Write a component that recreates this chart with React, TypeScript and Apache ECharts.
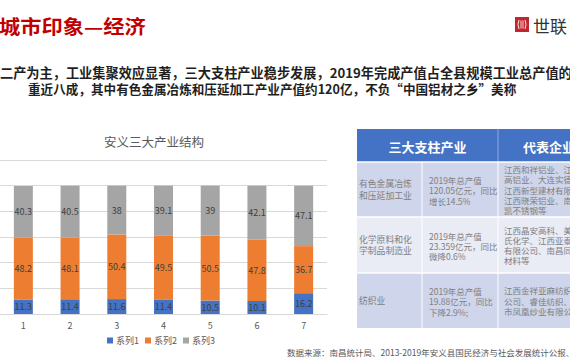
import React, { useEffect, useRef } from "react";
import * as echarts from "echarts";

const categories = ["1", "2", "3", "4", "5", "6", "7"];
const seriesNames = ["系列1", "系列2", "系列3"];
const series1 = [11.3, 11.4, 11.6, 11.4, 10.5, 10.1, 16.2];
const series2 = [48.2, 48.1, 50.4, 49.5, 50.5, 47.8, 36.7];
const series3 = [40.3, 40.5, 38, 39.1, 39, 42.1, 47.1];
const seriesColors = ["#4472C4", "#ED7D31", "#A5A5A5"];

const pageTitle = "城市印象—经济";
const subtitleLine1 = "二产为主，工业集聚效应显著，三大支柱产业稳步发展，2019年完成产值占全县规模工业总产值的";
const subtitleLine2 = "重近八成，其中有色金属冶炼和压延加工产业产值约120亿，不负“中国铝材之乡”美称";
const chartTitle = "安义三大产业结构";
const brandName = "世联";
const tableHeaders = ["三大支柱产业", "代表企业"];
const industries = ["有色金属冶炼\n和压延加工业", "化学原料和化\n学制品制造业", "纺织业"];
const outputs = [
  "2019年总产值\n120.05亿元，同比\n增长14.5%",
  "2019年总产值\n23.359亿元，同比\n微降0.6%",
  "2019年总产值\n19.88亿元，同比\n下降2.9%;",
];
const companies = [
  "江西和祥铝业、江\n高铝业、大连实德\n江西新型建材有限\n江西晓荣铝业、南\n凯不锈钢等",
  "江西晶安高科、美\n氏化学、江西亚泰\n有限公司、南昌同\n材料等",
  "江西金祥亚麻纺织\n公司、睿佳纺织、\n市凤凰纱业有限公",
];
const footnote = "数据来源：南昌统计局、2013-2019年安义县国民经济与社会发展统计公报、政府";

const FONT = '"Noto Sans CJK SC", "Noto Sans", sans-serif';

export default function App() {
  const ref = useRef<HTMLDivElement>(null);
  useEffect(() => {
    if (!ref.current) return;
    const chart = echarts.init(ref.current, null, { renderer: "svg" });

    const rowTops = [162, 217, 273];
    const rowBottoms = [217, 273, 328];
    const rowColors = ["#CFD5EA", "#E9EBF5", "#CFD5EA"];
    const tableGraphics: any[] = [];
    tableGraphics.push({
      type: "rect",
      shape: { x: 357, y: 129, width: 260, height: 33 },
      style: { fill: "#4472C4" },
    });
    tableGraphics.push({
      type: "line",
      shape: { x1: 498, y1: 129, x2: 498, y2: 162 },
      style: { stroke: "#8EA9DB", lineWidth: 1 },
    });
    tableGraphics.push({
      type: "text",
      style: {
        text: tableHeaders[0], x: 427.5, y: 146.5, fill: "#ffffff",
        font: `bold 13px ${FONT}`, textAlign: "center", textVerticalAlign: "middle",
      },
    });
    tableGraphics.push({
      type: "text",
      style: {
        text: tableHeaders[1], x: 523, y: 146.5, fill: "#ffffff",
        font: `bold 13px ${FONT}`, textAlign: "left", textVerticalAlign: "middle",
      },
    });
    for (let i = 0; i < 3; i++) {
      const top = rowTops[i];
      const h = rowBottoms[i] - top;
      const cy = top + h / 2;
      tableGraphics.push({
        type: "rect",
        shape: { x: 357, y: top, width: 260, height: h },
        style: { fill: rowColors[i] },
      });
      tableGraphics.push({
        type: "text",
        style: {
          text: industries[i], x: 359, y: cy, fill: "#808080",
          font: `8.8px ${FONT}`, lineHeight: 11.5, textAlign: "left", textVerticalAlign: "middle",
        },
      });
      tableGraphics.push({
        type: "text",
        style: {
          text: outputs[i], x: 429, y: cy + 0.8, fill: "#808080",
          font: `8.5px ${FONT}`, lineHeight: 10.2, textAlign: "left", textVerticalAlign: "middle",
        },
      });
      tableGraphics.push({
        type: "text",
        style: {
          text: companies[i], x: 504, y: cy, fill: "#808080",
          font: `8.5px ${FONT}`, lineHeight: 10.2, textAlign: "left", textVerticalAlign: "middle",
        },
      });
    }
    [162, 217, 273].forEach((y) => {
      tableGraphics.push({
        type: "line",
        shape: { x1: 357, y1: y, x2: 600, y2: y },
        style: { stroke: "#ffffff", lineWidth: 1.5 },
      });
    });
    [422, 498].forEach((x) => {
      tableGraphics.push({
        type: "line",
        shape: { x1: x, y1: 162, x2: x, y2: 328 },
        style: { stroke: "#ffffff", lineWidth: 1 },
      });
    });

    const option: any = {
      animation: false,
      backgroundColor: "#ffffff",
      textStyle: { fontFamily: FONT },
      grid: { left: 0, right: 243, top: 160, bottom: 46, containLabel: false },
      legend: {
        data: seriesNames,
        left: 107,
        top: 336,
        padding: 0,
        itemWidth: 6,
        itemHeight: 6,
        itemGap: 6,
        icon: "rect",
        textStyle: { fontSize: 9, color: "#595959", fontFamily: FONT, padding: [0, 0, 0, -2] },
      },
      xAxis: {
        type: "category",
        data: categories,
        axisLine: { show: true, lineStyle: { color: "#D9D9D9" } },
        axisTick: { show: false },
        axisLabel: { color: "#595959", fontSize: 9, margin: 7 },
      },
      yAxis: {
        type: "value",
        min: 0,
        max: 120,
        interval: 20,
        axisLabel: { show: false },
        axisLine: { show: false },
        axisTick: { show: false },
        splitLine: { lineStyle: { color: "#D9D9D9", width: 1 } },
      },
      series: [series1, series2, series3].map((d, i) => ({
        name: seriesNames[i],
        type: "bar",
        stack: "total",
        data: d,
        barWidth: 19,
        itemStyle: { color: seriesColors[i] },
        label: {
          show: true,
          position: "inside",
          color: "#404040",
          fontSize: 9,
          fontFamily: FONT,
        },
      })),
      graphic: [
        {
          type: "text",
          x: -1,
          y: 26,
          scaleX: 1.12,
          style: {
            text: pageTitle, x: 0, y: 0, fill: "#C00000",
            font: `bold 19px ${FONT}`, textAlign: "left", textVerticalAlign: "middle",
          },
        },
        {
          type: "rect",
          shape: { x: 515, y: 17, width: 14, height: 15 },
          style: { fill: "#C4262E" },
        },
        {
          type: "polyline",
          shape: { points: [[519, 20], [518, 24.5], [519, 29]] },
          style: { stroke: "#ffffff", lineWidth: 0.9, fill: null },
        },
        {
          type: "polyline",
          shape: { points: [[525, 20], [526, 24.5], [525, 29]] },
          style: { stroke: "#ffffff", lineWidth: 0.9, fill: null },
        },
        { type: "line", shape: { x1: 521, y1: 20.5, x2: 521, y2: 28.5 }, style: { stroke: "#fff", lineWidth: 0.8 } },
        { type: "line", shape: { x1: 523, y1: 20.5, x2: 523, y2: 28.5 }, style: { stroke: "#fff", lineWidth: 0.8 } },
        {
          type: "text",
          style: {
            text: brandName, x: 533, y: 25, fill: "#333333",
            font: `17px ${FONT}`, textAlign: "left", textVerticalAlign: "middle",
          },
        },
        {
          type: "text",
          style: {
            text: subtitleLine1, x: 0, y: 72, fill: "#1F1F1F",
            font: `bold 13.2px ${FONT}`, textAlign: "left", textVerticalAlign: "middle",
          },
        },
        {
          type: "text",
          style: {
            text: subtitleLine2, x: 28, y: 88, fill: "#1F1F1F",
            font: `bold 12.6px ${FONT}`, textAlign: "left", textVerticalAlign: "middle",
          },
        },
        {
          type: "text",
          style: {
            text: chartTitle, x: 154, y: 141, fill: "#595959",
            font: `12.5px ${FONT}`, textAlign: "center", textVerticalAlign: "middle",
          },
        },
        ...tableGraphics,
        {
          type: "text",
          style: {
            text: footnote, x: 287, y: 352, fill: "#595959",
            font: `8.5px ${FONT}`, textAlign: "left", textVerticalAlign: "middle",
          },
        },
      ],
    };
    chart.setOption(option);
    return () => chart.dispose();
  }, []);
  return (
    <div
      ref={ref}
      style={{ position: "absolute", left: 0, top: 0, width: 570, height: 360, background: "#fff" }}
    />
  );
}
